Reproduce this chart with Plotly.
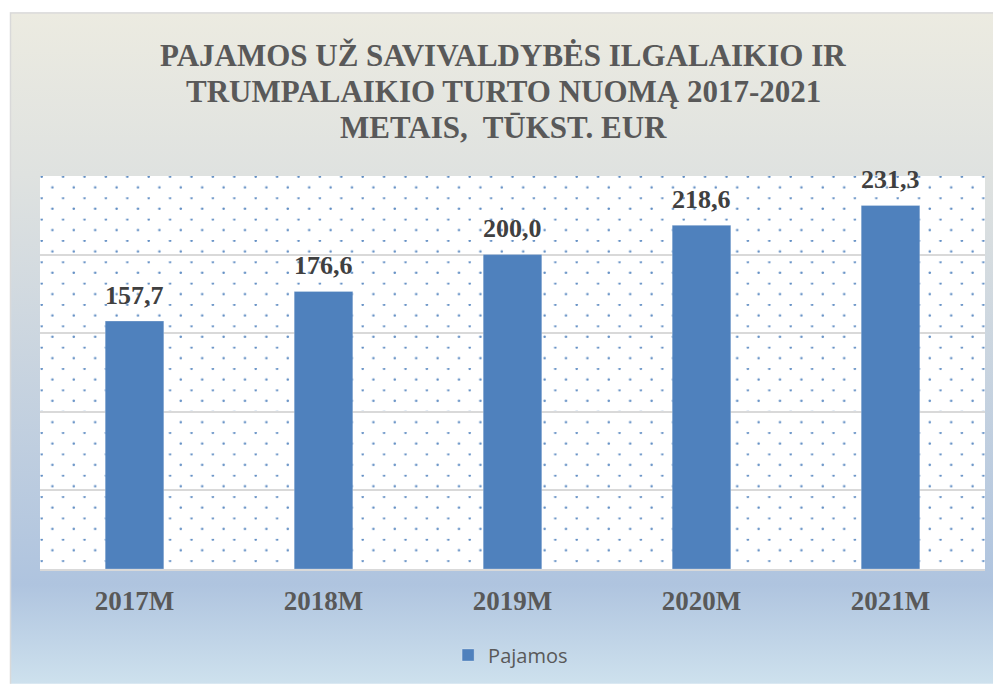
import base64
import plotly.graph_objects as go

categories = ["2017M", "2018M", "2019M", "2020M", "2021M"]
values = [157.7, 176.6, 200.0, 218.6, 231.3]
series_name = "Pajamos"
title_lines = ["PAJAMOS UŽ SAVIVALDYBĖS ILGALAIKIO IR",
               "TRUMPALAIKIO TURTO NUOMĄ 2017-2021",
               "METAIS,  TŪKST. EUR"]

# page body has 8px margin -> figure is drawn at (8,8) of the window
W, H = 993, 677
L, R, T, B = 32, 16, 168, 115
PW, PH = W - L - R, H - T - B

svg = f'''<svg xmlns="http://www.w3.org/2000/svg" width="{W}" height="{H}" viewBox="0 0 {W} {H}">
<defs>
<linearGradient id="g" x1="0" y1="0" x2="0" y2="1">
<stop offset="0" stop-color="#ecebe1"/>
<stop offset="0.235" stop-color="#dfe2e0"/>
<stop offset="0.83" stop-color="#afc4df"/>
<stop offset="1" stop-color="#d3e6f0"/>
</linearGradient>
<pattern id="p" x="{L}" y="{T}" width="21.4" height="21.4" patternUnits="userSpaceOnUse">
<circle cx="1.7" cy="0.7" r="1.25" fill="#4f81bd" fill-opacity="0.9"/>
<circle cx="12.4" cy="11.4" r="1.25" fill="#4f81bd" fill-opacity="0.9"/>
</pattern>
</defs>
<rect x="0" y="0" width="{W}" height="{H}" fill="white"/>
<rect x="2.5" y="4.5" width="1000" height="690" fill="url(#g)" stroke="#d9d9d9" stroke-width="1.5"/>
<rect x="{L}" y="{T}" width="{PW}" height="{PH}" fill="white"/>
<rect x="{L}" y="{T}" width="{PW}" height="{PH}" fill="url(#p)"/>
</svg>'''
src = "data:image/svg+xml;base64," + base64.b64encode(svg.encode("utf-8")).decode("ascii")

labels = [f"{v:.1f}".replace(".", ",") for v in values]

fig = go.Figure()
fig.add_trace(go.Bar(
    x=categories, y=values, name=series_name,
    marker=dict(color="#4f81bd", line=dict(color="rgba(255,255,255,0.5)", width=0.5)),
    width=0.31,
    showlegend=True,
))

annotations = []
for c, v, t in zip(categories, values, labels):
    annotations.append(dict(x=c, y=v, xref="x", yref="y", text=t, showarrow=False,
                            yanchor="middle", yshift=26,
                            font=dict(family="Liberation Serif", size=26, color="#404040", weight="bold")))

title_y = [(562 - (py - 8)) / PH for py in (55, 91, 127)]
for line, ty in zip(title_lines, title_y):
    annotations.append(dict(x=(495 - L) / PW, y=ty, xref="paper", yref="paper", text=line,
                            showarrow=False, xanchor="center", yanchor="middle",
                            font=dict(family="Liberation Serif", size=31, color="#595959", weight="bold")))

fig.update_layout(
    width=W, height=H,
    margin=dict(l=L, r=R, t=T, b=B),
    paper_bgcolor="white",
    plot_bgcolor="rgba(0,0,0,0)",
    images=[dict(source=src, xref="paper", yref="paper",
                 x=-L / PW, y=1 + T / PH, sizex=W / PW, sizey=H / PH,
                 xanchor="left", yanchor="top", sizing="stretch", layer="below")],
    annotations=annotations,
    xaxis=dict(showline=True, linecolor="#d9d9d9", linewidth=2, ticks="", showgrid=False,
               tickfont=dict(family="Liberation Serif", size=27, color="#595959", weight="bold"),
               ticklabelstandoff=7),
    yaxis=dict(range=[0, 250], dtick=50, showticklabels=False, showgrid=True,
               gridcolor="#d9d9d9", gridwidth=1.5, zeroline=False, fixedrange=True),
    legend=dict(orientation="h", x=0.498, xanchor="center", y=-0.2157, yanchor="middle",
                font=dict(family="Open Sans", size=20, color="#595959"),
                bgcolor="rgba(0,0,0,0)"),
    showlegend=True,
)

fig.write_html("out.html")
